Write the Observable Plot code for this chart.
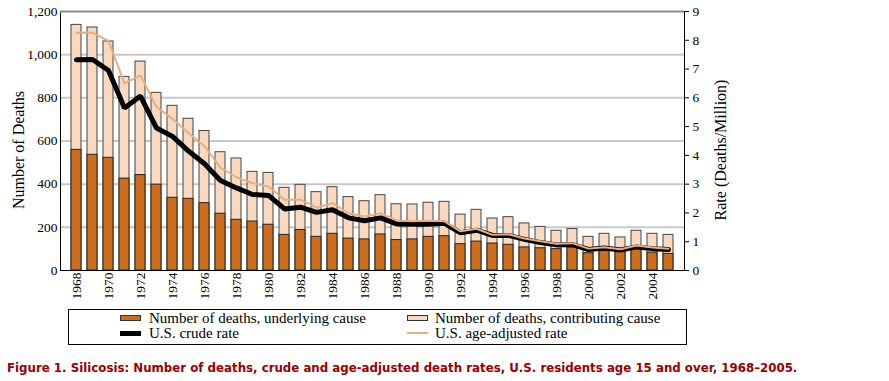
<!DOCTYPE html>
<html>
<head>
<meta charset="utf-8">
<script src="https://cdn.jsdelivr.net/npm/d3@7"></script>
<script src="https://cdn.jsdelivr.net/npm/@observablehq/plot@0.6"></script>
<style>
  html, body { margin: 0; padding: 0; background: #fff; }
  body { width: 889px; height: 381px; position: relative; overflow: hidden; }
  #chart { position: absolute; left: 0; top: 0; }
  #chart svg text { font-family: "Liberation Serif", serif; }
  #legend {
    position: absolute; left: 68px; top: 309px; width: 617px; height: 34px;
    border: 1px solid #000; font-family: "Liberation Serif", serif; font-size: 15px; color: #000;
  }
  .item { position: absolute; white-space: nowrap; line-height: 15px; }
  .sw { position: absolute; box-sizing: border-box; }
  #caption {
    position: absolute; left: 7px; top: 361px; white-space: nowrap;
    font-family: "DejaVu Sans", sans-serif;
    font-weight: bold; font-size: 11.8px; color: #990000;
  }
</style>
</head>
<body>
<div id="chart"></div>
<div id="legend">
  <div class="sw" style="left:51px;top:5px;width:21px;height:6px;background:#CC6E1E;border:1px solid #333;"></div>
  <div class="item" style="left:80px;top:1px;">Number of deaths, underlying cause</div>
  <div class="sw" style="left:51px;top:21px;width:21px;height:5px;background:#000;"></div>
  <div class="item" style="left:80px;top:16px;">U.S. crude rate</div>
  <div class="sw" style="left:338px;top:5px;width:21px;height:6px;background:#F9DAC0;border:1px solid #333;"></div>
  <div class="item" style="left:366px;top:1px;">Number of deaths, contributing cause</div>
  <div class="sw" style="left:338px;top:22px;width:21px;height:2px;background:#E9AE80;"></div>
  <div class="item" style="left:366px;top:16px;">U.S. age-adjusted rate</div>
</div>
<div id="caption">Figure 1. Silicosis: Number of deaths, crude and age-adjusted death rates, U.S. residents age 15 and over, 1968–2005.</div>
<script>
const years = [1968,1969,1970,1971,1972,1973,1974,1975,1976,1977,1978,1979,1980,1981,1982,1983,1984,1985,1986,1987,1988,1989,1990,1991,1992,1993,1994,1995,1996,1997,1998,1999,2000,2001,2002,2003,2004,2005];
const underlying = [559,536,522,426,442,398,337,332,312,263,235,227,212,165,188,156,170,148,144,167,141,144,156,159,122,134,125,119,107,103,99,107,80,90,86,99,83,77];
const contributing = [1138,1126,1061,897,968,823,763,703,646,548,519,457,452,383,397,363,386,340,321,349,307,306,314,318,259,281,241,247,218,202,184,192,156,170,153,184,170,165];
const crudeRate = [7.32,7.33,6.95,5.65,6.06,4.95,4.66,4.15,3.71,3.13,2.87,2.64,2.61,2.14,2.20,2.02,2.11,1.83,1.73,1.83,1.62,1.61,1.61,1.64,1.31,1.40,1.22,1.22,1.08,0.97,0.89,0.90,0.73,0.78,0.71,0.82,0.76,0.73];
const ageAdjRate = [8.26,8.27,7.97,6.50,6.78,5.68,5.27,4.78,4.32,3.57,3.24,3.03,2.92,2.46,2.46,2.18,2.34,1.99,1.88,1.99,1.74,1.71,1.73,1.71,1.36,1.45,1.24,1.26,1.11,1.02,0.93,0.95,0.76,0.81,0.74,0.87,0.80,0.76];
const deathTicks = [0,200,400,600,800,1000,1200];
const gridTicks = [200,400,600,800,1000];
const rateTicks = [0,1,2,3,4,5,6,7,8,9];
const yearTicks = [1968,1970,1972,1974,1976,1978,1980,1982,1984,1986,1988,1990,1992,1994,1996,1998,2000,2002,2004];

const K = 1200 / 9; // rate -> deaths axis
const rows = years.map((y, i) => ({
  year: y, underlying: underlying[i], contributing: contributing[i],
  crude: crudeRate[i] * K, adj: ageAdjRate[i] * K
}));
const serif = "Liberation Serif, serif";

const chart = Plot.plot({
  width: 889,
  height: 302,
  marginLeft: 60,
  marginRight: 205,
  marginTop: 11,
  marginBottom: 32,
  style: { fontFamily: serif, fontSize: "13.5px", color: "#000", background: "#fff" },
  x: { type: "band", domain: years, paddingInner: 0.4, paddingOuter: 0.1, label: null },
  y: { domain: [0, 1200], label: null },
  marks: [
    Plot.gridY(gridTicks, { stroke: "#c8c8c8", strokeOpacity: 1, strokeWidth: 2 }),
    Plot.barY(rows, { x: "year", y: "contributing", fill: "#F9DAC0", stroke: "#444", strokeWidth: 1 }),
    Plot.barY(rows, { x: "year", y: "underlying", fill: "#CC6E1E", stroke: "#222", strokeWidth: 1 }),
    Plot.line(rows, { x: "year", y: "crude", stroke: "#000", strokeWidth: 5, strokeLinejoin: "miter" }),
    Plot.line(rows, { x: "year", y: "adj", stroke: "#E9AE80", strokeWidth: 2 }),
    Plot.frame({ stroke: "#000", strokeWidth: 1 }),
    Plot.ruleY([1200], { stroke: "#888", strokeWidth: 2 }),
    Plot.axisY({ ticks: deathTicks, tickFormat: d3.format(","), tickSize: 0, tickPadding: 3, label: null, fontFamily: serif }),
    Plot.axisY({ anchor: "right", ticks: rateTicks.map(r => r * K), tickFormat: d => String(Math.round(d / K)), tickSize: 4, tickPadding: 4, label: null, fontFamily: serif }),
    Plot.axisX({ ticks: yearTicks, tickFormat: d => String(d), tickRotate: -90, tickSize: 0, tickPadding: 2, label: null, fontFamily: serif }),
    Plot.text(["Number of Deaths"], { frameAnchor: "left", textAnchor: "middle", rotate: -90, dx: -42, dy: 9, fontSize: 16, fontFamily: serif }),
    Plot.text(["Rate (Deaths/Million)"], { frameAnchor: "right", textAnchor: "middle", rotate: -90, dx: 36, dy: 9, fontSize: 16, fontFamily: serif })
  ]
});
document.getElementById("chart").appendChild(chart);
</script>
</body>
</html>
